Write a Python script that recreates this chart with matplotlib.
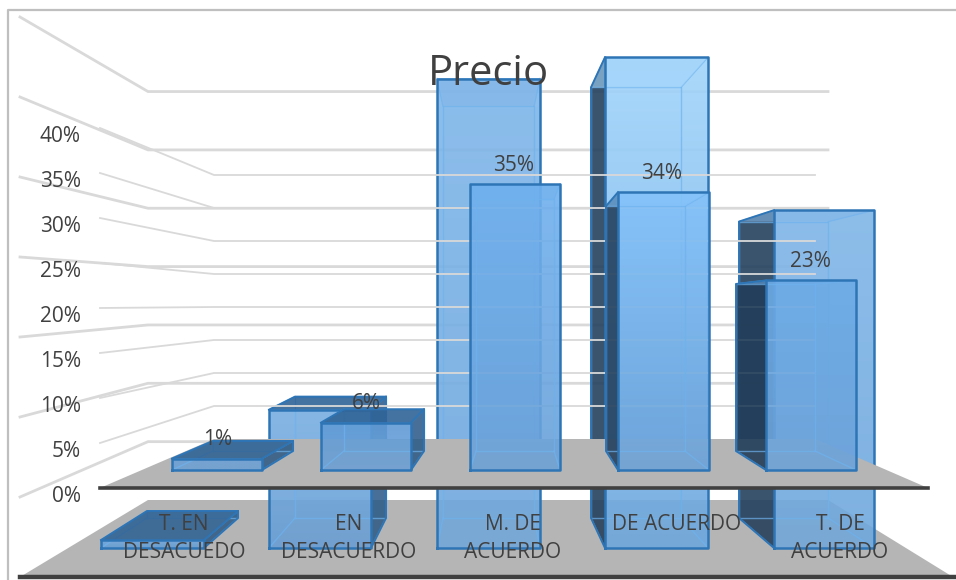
import numpy as np
import matplotlib
matplotlib.use("Agg")
import matplotlib.pyplot as plt
from matplotlib.colors import to_rgb

plt.rcParams['font.family'] = ['Open Sans', 'DejaVu Sans']

categories = ["T. EN\nDESACUEDO", "EN\nDESACUERDO", "M. DE\nACUERDO", "DE ACUERDO", "T. DE\nACUERDO"]
front_values = [1.4, 5.8, 35, 34, 23.2]
back_values = [0.6, 10.4, 35.3, 36.9, 25.4]
y_ticks = [0, 5, 10, 15, 20, 25, 30, 35, 40]

# layout in pixels of the 956x580 picture
W, H = 956, 580
BASE = 470
PX = 8.17


def py(pixel_y):
    # main axes: y is the percent scale of the front series
    return (BASE - pixel_y) / PX


def level(base, scale, v):
    return py(base - scale * v)


near_front = (470, 8.17)
far_front = (451, 7.2)
near_back = (548, 13.3)
far_back = (518, 11.67)

front_near_x = [(172, 262), (321, 411), (470, 560), (618, 709), (766, 856)]
front_far_x = [(213, 293), (344, 424), (476, 554), (606, 685), (736, 815)]
back_near_x = [(101, 204), (269, 371), (437, 540), (605, 708), (774, 874)]
back_far_x = [(147, 238), (295, 386), (443, 534), (591, 681), (739, 828)]

label_x = [218, 366, 514, 662, 810]
cat_x = [184, 349, 513, 677, 840]

GRID = '#d9d9d9'
FLOOR = '#b5b5b5'
EDGE = '#2e75b6'
INNER = '#6db2ee'
TEXT = '#404040'
LIGHT = '#7db8ee'

back_style = {
    'top': ['#6fa8dc', '#78aee0', '#80b7ea', '#a3d6fc', '#80b6e8'],
    'bottom': ['#5f9bd6', '#659dd6', '#6ea6dc', '#6aa6de', '#6ea6dc'],
    'left': [LIGHT, LIGHT, LIGHT, '#1f3a56', '#1f3a56'],
    'right': ['#24527f', '#24527f', LIGHT, LIGHT, LIGHT],
    'cap': ['#2b5f92', '#2b5f92', '#7fb5e8', '#9fd3fa', '#7fb5e8'],
}
front_style = {
    'top': ['#6a9fd6', '#5f9ad6', '#6fb0ee', '#84c2fa', '#6caae6'],
    'bottom': ['#6a9fd4', '#6a9fd4', '#69a0d8', '#6ba2d8', '#6ba2d8'],
    'left': [LIGHT, LIGHT, LIGHT, '#1f3a56', '#1c3650'],
    'right': ['#24527f', '#24527f', LIGHT, LIGHT, LIGHT],
    'cap': ['#2b5f92', '#2b5f92', '#6fb0ee', '#84c2fa', '#6caae6'],
}


def draw_bar(ax, value, near_x, far_x, near, far, style, i, z):
    n0, n1 = near_x
    f0, f1 = far_x
    ny0, ny1 = level(near[0], near[1], 0), level(near[0], near[1], value)
    fy0, fy1 = level(far[0], far[1], 0), level(far[0], far[1], value)

    ax.fill([f0, f1, f1, f0], [fy0, fy0, fy1, fy1], color=LIGHT, alpha=0.35, lw=0, zorder=z)
    ax.fill([f0, n0, n0, f0], [fy0, ny0, ny1, fy1], color=style['left'][i],
            alpha=0.85 if style['left'][i] != LIGHT else 0.3, lw=0, zorder=z)
    ax.fill([f1, n1, n1, f1], [fy0, ny0, ny1, fy1], color=style['right'][i],
            alpha=0.8 if style['right'][i] != LIGHT else 0.3, lw=0, zorder=z)

    ramp = np.linspace(to_rgb(style['bottom'][i]), to_rgb(style['top'][i]), 64)[:, None, :]
    ax.imshow(ramp, extent=(n0, n1, ny0, ny1), origin='lower', aspect='auto',
              alpha=0.85, interpolation='bilinear', zorder=z + 0.1)

    ax.plot([f0, f1, f1, f0, f0], [fy0, fy0, fy1, fy1, fy0], color=INNER, lw=1, alpha=0.7, zorder=z + 0.2)
    for xa, xb, ya, yb in [(f0, n0, fy0, ny0), (f1, n1, fy0, ny0), (f0, n0, fy1, ny1), (f1, n1, fy1, ny1)]:
        ax.plot([xa, xb], [ya, yb], color=INNER, lw=1, alpha=0.7, zorder=z + 0.2)

    ax.fill([f0, f1, n1, n0], [fy1, fy1, ny1, ny1], color=style['cap'][i],
            alpha=0.85 if f1 > n1 else 0.6, lw=0, zorder=z + 0.3)
    # only the edges on the outside of the box are strong
    if f0 < n0:
        ax.plot([n0, f0, f0, n0], [ny1, fy1, fy0, ny0], color=EDGE, lw=1.4, zorder=z + 0.4)
    if f1 > n1:
        ax.plot([n1, f1, f1, n1], [ny1, fy1, fy0, ny0], color=EDGE, lw=1.4, zorder=z + 0.4)
        ax.plot([n0, f0, f1], [ny1, fy1, fy1], color=EDGE, lw=1.4, zorder=z + 0.4)
    ax.plot([n0, n1, n1, n0, n0], [ny0, ny0, ny1, ny1, ny0], color=EDGE, lw=1.8, zorder=z + 0.5)


fig = plt.figure(figsize=(W / 100, H / 100), dpi=100)
ax = fig.add_axes([0, 0, 1, 1])
ax.set_axis_off()

# frame of the chart area
ax.plot([8, 8, W], [py(H), py(10), py(10)], color='#bfbfbf', lw=1.6, zorder=0.5)

# grid of the rear copy of the chart
for v in y_ticks[1:-1]:
    ax.plot([20, 148, 828], [py(577 - 16 * v), py(500 - 11.67 * v), py(500 - 11.67 * v)],
            color=GRID, lw=2.0, zorder=1)

ax.fill([148, 828, 953, 20], [py(500), py(500), py(577), py(577)], color=FLOOR, lw=0, zorder=2)
ax.plot([20, W], [py(577), py(577)], color=TEXT, lw=3.2, zorder=2.1)

for i, v in enumerate(back_values):
    draw_bar(ax, v, back_near_x[i], back_far_x[i], near_back, far_back, back_style, i, 3)

# grid of the front copy
for v in y_ticks[1:]:
    ax.plot([100, 214, 815], [py(488 - 9 * v), py(439 - 6.6 * v), py(439 - 6.6 * v)],
            color=GRID, lw=1.3, zorder=4)

ax.fill([214, 815, 928, 100], [py(439), py(439), py(488), py(488)], color=FLOOR, lw=0, zorder=5)
ax.plot([100, 928], [py(488), py(488)], color=TEXT, lw=2.6, zorder=5.1)

for i, v in enumerate(front_values):
    draw_bar(ax, v, front_near_x[i], front_far_x[i], near_front, far_front, front_style, i, 6)
    ax.text(label_x[i], level(near_front[0], near_front[1], v) + 19 / PX, f"{v:.0f}%",
            ha='center', va='center', fontsize=15, color=TEXT, zorder=8)

for i, name in enumerate(categories):
    lines = name.split("\n")
    for k, line in enumerate(lines):
        ax.text(cat_x[i], py(524 + 29 * k), line, ha='center', va='center',
                fontsize=15, color=TEXT, zorder=8)

ax.text(488, py(85), "Precio", ha='center', va='baseline', fontsize=30, color=TEXT, zorder=8)

ax.set_xlim(0, W)
ax.set_ylim(py(H), py(0))

# value axis
ax_y = fig.add_axes([81 / W, (H - 494) / H, 1 / W, 360 / H])
ax_y.patch.set_visible(False)
for s in ax_y.spines.values():
    s.set_visible(False)
ax_y.set_ylim(0, 40)
ax_y.set_xticks([])
ax_y.set_yticks(y_ticks)
ax_y.set_yticklabels([f"{t}%" for t in y_ticks], fontsize=15, color=TEXT)
ax_y.tick_params(axis='y', length=0, pad=0)

fig.savefig("out.png", dpi=100)
